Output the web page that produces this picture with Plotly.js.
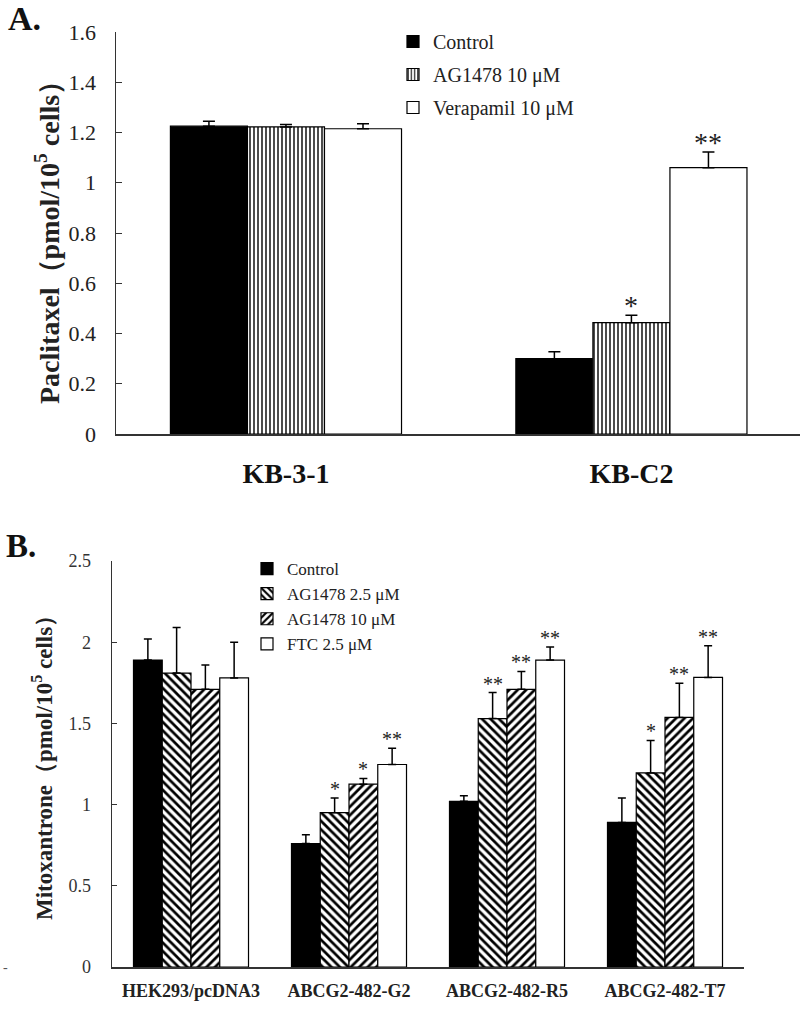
<!DOCTYPE html>
<html>
<head>
<meta charset="utf-8">
<script src="https://cdn.plot.ly/plotly-3.0.1.min.js"></script>
<style>html,body{margin:0;padding:0;background:#fff;}#chart{width:800px;height:1010px;}</style>
</head>
<body>
<div id="chart"></div>
<script>
// ---------- Panel A data ----------
const A_groups = ['KB-3-1', 'KB-C2'];
const A_names = ['Control', 'AG1478 10 μM', 'Verapamil 10 μM'];
const A_control = [1.225, 0.300];
const A_control_err = [0.020, 0.027];
const A_ag10 = [1.222, 0.443];
const A_ag10_err = [0.010, 0.030];
const A_vera = [1.215, 1.060];
const A_vera_err = [0.020, 0.062];
const A_sig_control = ['', ''];
const A_sig_ag10 = ['', '*'];
const A_sig_vera = ['', '**'];
const A_yticks = [0, 0.2, 0.4, 0.6, 0.8, 1, 1.2, 1.4, 1.6];

// ---------- Panel B data ----------
const B_groups = ['HEK293/pcDNA3', 'ABCG2-482-G2', 'ABCG2-482-R5', 'ABCG2-482-T7'];
const B_names = ['Control', 'AG1478 2.5 μM', 'AG1478 10 μM', 'FTC 2.5 μM'];
const B_control = [1.89, 0.76, 1.02, 0.89];
const B_control_err = [0.13, 0.055, 0.035, 0.15];
const B_ag25 = [1.81, 0.95, 1.53, 1.195];
const B_ag25_err = [0.28, 0.09, 0.16, 0.20];
const B_ag10 = [1.71, 1.126, 1.71, 1.537];
const B_ag10_err = [0.15, 0.035, 0.11, 0.21];
const B_ftc = [1.78, 1.247, 1.89, 1.783];
const B_ftc_err = [0.22, 0.10, 0.08, 0.195];
const B_sig_control = ['', '', '', ''];
const B_sig_ag25 = ['', '*', '**', '*'];
const B_sig_ag10 = ['', '*', '**', '**'];
const B_sig_ftc = ['', '**', '**', '**'];
const B_yticks = [0, 0.5, 1, 1.5, 2, 2.5];

// ---------- styling ----------
const SERIF = "'Liberation Serif', 'Times New Roman', serif";
const W = 800, H = 1010;
const A_groupWidth = 0.669;
const B_groupWidth = 0.728;

function px2x(p) { return p / W; }
function px2y(p) { return (H - p) / H; }

const traces = [];
const annotations = [];

function addSet(groups, names, vals, errs, sigs, markers, groupWidth, xa, ya, legendName, errWidth, sigFont, sigShift) {
  const n = vals.length;
  const bw = groupWidth / n;
  const xs = groups.map((g, i) => i);
  for (let k = 0; k < n; k++) {
    const off = -groupWidth / 2 + k * bw;
    traces.push({
      type: 'bar',
      name: names[k],
      x: xs,
      y: vals[k],
      offset: off,
      width: bw,
      xaxis: xa,
      yaxis: ya,
      legend: legendName,
      legendgroup: legendName + k,
      marker: markers[k],
      error_y: {
        type: 'data', symmetric: false,
        array: errs[k], arrayminus: errs[k].map(() => 0),
        color: '#000', thickness: 1.5, width: errWidth
      },
      hoverinfo: 'skip'
    });
    sigs[k].forEach((s, i) => {
      if (!s) return;
      annotations.push({
        xref: xa, yref: ya,
        x: i + off + bw / 2,
        y: vals[k][i] + errs[k][i],
        text: s, showarrow: false,
        yanchor: 'bottom', yshift: sigShift,
        font: {family: SERIF, size: sigFont, color: '#222'}
      });
    });
  }
}

const solidBlack = {color: '#000', line: {color: '#000', width: 1.2}};
const whiteBar = {color: '#fff', line: {color: '#000', width: 1.2}};

addSet(A_groups, A_names,
  [A_control, A_ag10, A_vera],
  [A_control_err, A_ag10_err, A_vera_err],
  [A_sig_control, A_sig_ag10, A_sig_vera],
  [solidBlack,
   {color: '#fff', line: {color: '#000', width: 1.2},
    pattern: {shape: '|', fgcolor: '#000', bgcolor: '#fff', size: 4, solidity: 0.35, fillmode: 'replace'}},
   whiteBar],
  A_groupWidth, 'x', 'y', 'legend', 6, 28, -8);

addSet(B_groups, B_names,
  [B_control, B_ag25, B_ag10, B_ftc],
  [B_control_err, B_ag25_err, B_ag10_err, B_ftc_err],
  [B_sig_control, B_sig_ag25, B_sig_ag10, B_sig_ftc],
  [solidBlack,
   {color: '#fff', line: {color: '#000', width: 1.2},
    pattern: {shape: '\\', fgcolor: '#000', bgcolor: '#fff', size: 6, solidity: 0.45, fillmode: 'replace'}},
   {color: '#fff', line: {color: '#000', width: 1.2},
    pattern: {shape: '/', fgcolor: '#000', bgcolor: '#fff', size: 6, solidity: 0.45, fillmode: 'replace'}},
   whiteBar],
  B_groupWidth, 'x2', 'y2', 'legend2', 4, 20, -4);

// panel titles and axis titles
annotations.push(
  {xref: 'paper', yref: 'paper', x: px2x(6), y: px2y(18), xanchor: 'left', yanchor: 'middle',
   text: '<b>A.</b>', showarrow: false, font: {family: SERIF, size: 34, color: '#111'}},
  {xref: 'paper', yref: 'paper', x: px2x(4), y: px2y(546), xanchor: 'left', yanchor: 'middle',
   text: '<b>B.</b>', showarrow: false, font: {family: SERIF, size: 33, color: '#111'}},
  {xref: 'paper', yref: 'paper', x: px2x(48), y: px2y(236), xanchor: 'center', yanchor: 'middle',
   textangle: -90, showarrow: false,
   text: '<b>Paclitaxel（pmol/10<sup>5</sup> cells）</b>', font: {family: SERIF, size: 28, color: '#222'}},
  {xref: 'paper', yref: 'paper', x: px2x(42), y: px2y(762), xanchor: 'center', yanchor: 'middle',
   textangle: -90, showarrow: false,
   text: '<b>Mitoxantrone（pmol/10<sup>5</sup> cells）</b>', font: {family: SERIF, size: 23, color: '#222'}},
  {xref: 'paper', yref: 'paper', x: px2x(5), y: px2y(967), xanchor: 'center', yanchor: 'middle',
   text: '-', showarrow: false, font: {family: SERIF, size: 14, color: '#555'}}
);

const layout = {
  width: W, height: H,
  margin: {l: 0, r: 0, t: 0, b: 0},
  paper_bgcolor: '#fff', plot_bgcolor: '#fff',
  barmode: 'overlay',
  showlegend: true,
  xaxis: {
    domain: [px2x(116), 1], range: [-0.492, 1.488],
    tickvals: A_groups.map((g, i) => i), ticktext: A_groups.map(g => '<b>' + g + '</b>'),
    showline: true, linecolor: '#333', linewidth: 1.5, ticks: '', showgrid: false, zeroline: false,
    tickfont: {family: SERIF, size: 28, color: '#111'}, ticklabelstandoff: 14, anchor: 'y'
  },
  yaxis: {
    domain: [px2y(434), px2y(32)], range: [0, 1.6],
    tickvals: A_yticks, showline: true, linecolor: '#333', linewidth: 1.5,
    ticks: 'inside', ticklen: 6, tickcolor: '#333', showgrid: false, zeroline: false,
    tickfont: {family: SERIF, size: 22, color: '#222'}, ticklabelstandoff: 14, anchor: 'x'
  },
  xaxis2: {
    domain: [px2x(112), px2x(744)], range: [-0.5, 3.5],
    tickvals: B_groups.map((g, i) => i), ticktext: B_groups.map(g => '<b>' + g + '</b>'),
    showline: true, linecolor: '#333', linewidth: 1.5, ticks: '', showgrid: false, zeroline: false,
    tickfont: {family: SERIF, size: 18, color: '#222'}, ticklabelstandoff: 7, anchor: 'y2'
  },
  yaxis2: {
    domain: [px2y(967), px2y(561)], range: [0, 2.5],
    tickvals: B_yticks, showline: true, linecolor: '#333', linewidth: 1.5,
    ticks: 'inside', ticklen: 5, tickcolor: '#333', showgrid: false, zeroline: false,
    tickfont: {family: SERIF, size: 18, color: '#333'}, ticklabelstandoff: 16, anchor: 'x2'
  },
  legend: {
    x: px2x(393), y: px2y(22), xanchor: 'left', yanchor: 'top',
    bgcolor: 'rgba(0,0,0,0)', font: {family: SERIF, size: 20, color: '#222'},
    traceorder: 'grouped', tracegroupgap: 4, itemclick: false
  },
  legend2: {
    x: px2x(247), y: px2y(551), xanchor: 'left', yanchor: 'top',
    bgcolor: 'rgba(0,0,0,0)', font: {family: SERIF, size: 17, color: '#222'},
    traceorder: 'grouped', tracegroupgap: 0, itemclick: false
  },
  annotations: annotations
};

Plotly.newPlot('chart', traces, layout, {displayModeBar: false, staticPlot: true});
</script>
</body>
</html>
